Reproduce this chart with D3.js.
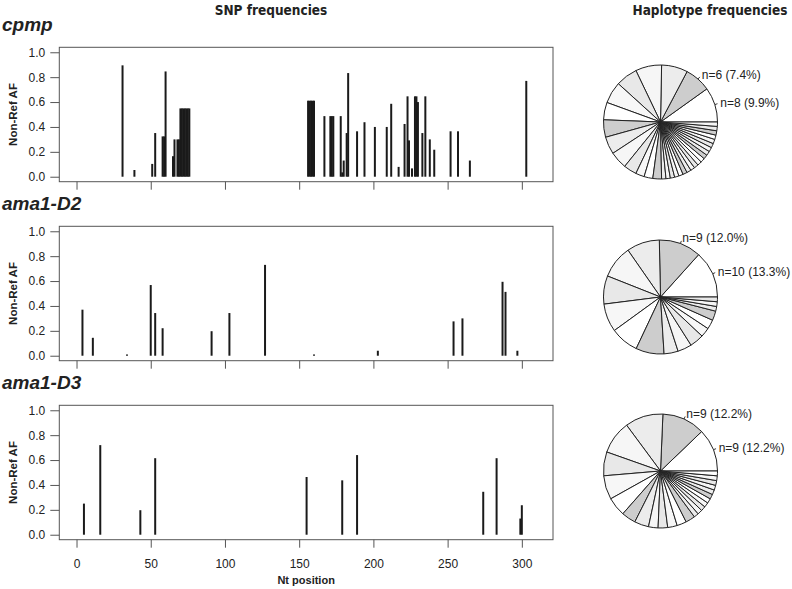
<!DOCTYPE html>
<html>
<head>
<meta charset="utf-8">
<script src="https://cdn.jsdelivr.net/npm/d3@7"></script>
<style>
  html, body { margin: 0; padding: 0; background: #fff; }
  svg { display: block; }
  text { font-family: "Liberation Sans", Arial, Helvetica, sans-serif; fill: #222; }
</style>
</head>
<body>
<svg id="chart" width="792" height="589"></svg>
<script>
// ---------------- data ----------------
const geneNames = ["cpmp", "ama1-D2", "ama1-D3"];

const cpmpPos = [31, 39, 51, 53, 58, 59, 60, 65, 66, 68, 69, 70, 71, 72, 73, 74, 75, 76,
  156, 157, 158, 159, 160, 167, 171, 172, 173, 178, 179, 180, 182, 183, 189, 194, 201, 209,
  212, 217, 221, 223, 224, 226, 228, 229, 230, 233, 235, 238, 241, 252, 257, 265, 303];
const cpmpAF = [0.895, 0.054, 0.103, 0.351, 0.324, 0.324, 0.846, 0.165, 0.30, 0.30, 0.30,
  0.549, 0.549, 0.549, 0.549, 0.549, 0.549, 0.549,
  0.611, 0.611, 0.611, 0.611, 0.611, 0.487, 0.487, 0.487, 0.487, 0.487, 0.035, 0.13, 0.351,
  0.833, 0.365, 0.438, 0.40, 0.40, 0.586, 0.079, 0.424, 0.646, 0.292, 0.067, 0.646, 0.646,
  0.60, 0.351, 0.646, 0.30, 0.217, 0.365, 0.365, 0.13, 0.77];

const d2Pos = [4, 11, 34, 50, 53, 58, 91, 103, 127, 160, 203, 254, 260, 287, 289, 297];
const d2AF  = [0.37, 0.144, 0.01, 0.568, 0.343, 0.221, 0.197, 0.343, 0.73, 0.01, 0.04,
  0.276, 0.30, 0.594, 0.513, 0.04];

const d3Pos = [5, 16, 43, 53, 155, 179, 189, 274, 283, 299, 300];
const d3AF  = [0.25, 0.72, 0.197, 0.615, 0.464, 0.437, 0.64, 0.345, 0.615, 0.13, 0.237];

const cpmpHap = [8, 6, 6, 6, 5, 5, 4, 4, 4, 4, 3, 2, 2, 2,
  1, 1, 1, 1, 1, 1, 1, 1, 1, 1, 1, 1, 1, 1, 1, 1, 1, 1, 1, 1];
const d2Hap = [10, 9, 7, 7, 6, 6, 6, 6, 3, 3, 3, 2, 2, 2, 1, 1, 1];
const d3Hap = [9, 9, 8, 7, 5, 5, 4, 3, 3, 2, 2, 2, 2, 2, 1, 1, 1, 1, 1, 1, 1, 1, 1, 1, 1];

const cpmpHapLabels = ["n=8 (9.9%)", "n=6 (7.4%)"];
const d2HapLabels = ["n=10 (13.3%)", "n=9 (12.0%)"];
const d3HapLabels = ["n=9 (12.2%)", "n=9 (12.2%)"];

const yTicks = [0, 0.2, 0.4, 0.6, 0.8, 1.0];
const xTicks = [0, 50, 100, 150, 200, 250, 300];
// R default pie palette, reproduced in greyscale
const pieGreys = ["#ffffff", "#cdcdcd", "#ececec", "#f6f6f6", "#e8e8e8", "#f7f7f7"];

// ---------------- layout ----------------
const svg = d3.select("#chart");
const panels = [
  { name: geneNames[0], pos: cpmpPos, af: cpmpAF, hap: cpmpHap, labels: cpmpHapLabels },
  { name: geneNames[1], pos: d2Pos, af: d2AF, hap: d2Hap, labels: d2HapLabels },
  { name: geneNames[2], pos: d3Pos, af: d3AF, hap: d3Hap, labels: d3HapLabels }
];
const plotL = 59.3, plotR = 553, boxTop0 = 47.3, boxH = 134.4, step = 179;
const pieCx = 660.5, pieCy = [122, 297, 471], pieR = 57;

const x = d3.scaleLinear().domain([-11.6, 321]).range([plotL, plotR]);

const titleFont = "'Liberation Sans Narrow', 'DejaVu Sans Condensed', sans-serif";
svg.append("text").attr("x", 271).attr("y", 15).attr("text-anchor", "middle")
  .style("font-family", titleFont)
  .style("font-weight", "bold").style("font-size", "13.5px").text("SNP frequencies");
svg.append("text").attr("x", 710).attr("y", 15).attr("text-anchor", "middle")
  .style("font-family", titleFont)
  .style("font-weight", "bold").style("font-size", "13.5px").text("Haplotype frequencies");

panels.forEach((p, i) => {
  const top = boxTop0 + i * step, bottom = top + boxH;
  const y = d3.scaleLinear().domain([-0.04, 1.04]).range([bottom, top]);
  const g = svg.append("g");

  g.append("text").attr("x", 2).attr("y", 31 + i * step)
    .style("font-weight", "bold").style("font-style", "italic").style("font-size", "19px")
    .text(p.name);

  // bars
  g.selectAll("line.bar").data(p.pos).join("line").attr("class", "bar")
    .attr("x1", d => x(d)).attr("x2", d => x(d))
    .attr("y1", y(0)).attr("y2", (d, k) => y(p.af[k]))
    .attr("stroke", "#1a1a1a").attr("stroke-width", 2);

  // box
  g.append("rect").attr("x", plotL).attr("y", top).attr("width", plotR - plotL).attr("height", boxH)
    .attr("fill", "none").attr("stroke", "#555").attr("stroke-width", 1);

  // y axis
  const ya = g.append("g").attr("transform", `translate(${plotL},0)`)
    .call(d3.axisLeft(y).tickValues(yTicks).tickSize(9).tickPadding(5).tickFormat(d3.format(".1f")));
  ya.select(".domain").remove();
  ya.selectAll("line").attr("stroke", "#555");
  ya.selectAll("text").style("font-size", "12px").attr("fill", "#222");

  g.append("text").attr("transform", `translate(13,${(top + bottom) / 2}) rotate(-90)`)
    .attr("text-anchor", "middle").attr("dominant-baseline", "central")
    .style("font-weight", "bold").style("font-size", "11.5px").text("Non-Ref AF");

  // x axis
  const xa = g.append("g").attr("transform", `translate(0,${bottom})`)
    .call(d3.axisBottom(x).tickValues(xTicks).tickSize(8).tickPadding(12)
      .tickFormat(i === 2 ? d3.format("d") : () => ""));
  xa.select(".domain").remove();
  xa.selectAll("line").attr("stroke", "#555");
  xa.selectAll("text").style("font-size", "12px").attr("fill", "#222");

  if (i === 2) {
    g.append("text").attr("x", (plotL + plotR) / 2).attr("y", bottom + 44)
      .attr("text-anchor", "middle").style("font-weight", "bold").style("font-size", "11px")
      .text("Nt position");
  }

  // pie (R-style: start at 3 o'clock, counter-clockwise)
  const pie = d3.pie().sort(null).startAngle(Math.PI / 2).endAngle(Math.PI / 2 - 2 * Math.PI);
  const arcs = pie(p.hap);
  const arc = d3.arc().innerRadius(0).outerRadius(pieR);
  const pg = g.append("g").attr("transform", `translate(${pieCx},${pieCy[i]})`);
  pg.selectAll("path").data(arcs).join("path")
    .attr("d", arc)
    .attr("fill", (d, k) => pieGreys[k % pieGreys.length])
    .attr("stroke", "#222").attr("stroke-width", 1).attr("stroke-linejoin", "round");

  p.labels.forEach((lab, k) => {
    const a = (arcs[k].startAngle + arcs[k].endAngle) / 2; // d3 angle (0 = north, cw)
    const ux = Math.sin(a), uy = -Math.cos(a);
    pg.append("line")
      .attr("x1", ux * pieR).attr("y1", uy * pieR)
      .attr("x2", ux * pieR * 1.05).attr("y2", uy * pieR * 1.05)
      .attr("stroke", "#222").attr("stroke-width", 0.9);
    pg.append("text").attr("x", ux * pieR * 1.1).attr("y", uy * pieR * 1.1)
      .attr("dominant-baseline", "central").attr("text-anchor", ux >= 0 ? "start" : "end")
      .style("font-size", "12px").text(lab);
  });
});
</script>
</body>
</html>
